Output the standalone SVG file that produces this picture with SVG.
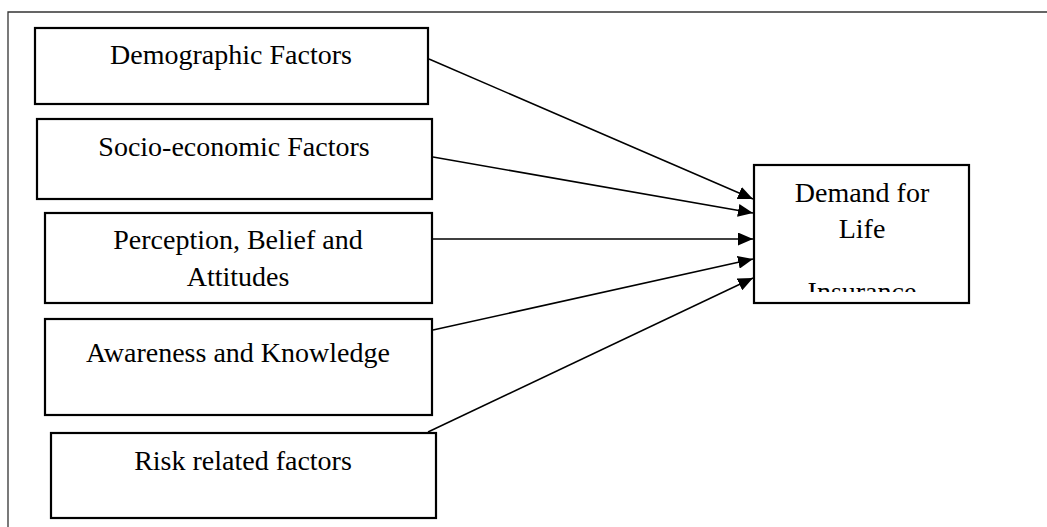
<svg xmlns="http://www.w3.org/2000/svg" width="1047" height="527" viewBox="0 0 1047 527">
  <style>
    .box { fill: #ffffff; stroke: #000000; stroke-width: 2.2; }
    .lbl { font-family: "Liberation Serif", "Times New Roman", serif; font-size: 28px; fill: #000000; text-anchor: middle; }
    .conn { stroke: #000000; stroke-width: 1.5; fill: none; }
    .frame { stroke: #333333; stroke-width: 1.3; fill: none; }
  </style>
  <defs>
    <marker id="arrow" viewBox="0 0 15 13" refX="15" refY="6.5" markerWidth="15" markerHeight="13" markerUnits="userSpaceOnUse" orient="auto">
      <path d="M0,0 L15,6.5 L0,13 Z" fill="#000000"/>
    </marker>
    <clipPath id="clipTarget">
      <rect x="754" y="165" width="215" height="127"/>
    </clipPath>
  </defs>
  <rect width="1047" height="527" fill="#ffffff"/>
  <path class="frame" d="M8,527 L8,12 L1047,12"/>

  <g id="n-demographic">
    <rect class="box" x="35" y="28" width="393" height="76"/>
    <text class="lbl" x="231" y="64">Demographic Factors</text>
  </g>
  <g id="n-socio">
    <rect class="box" x="37" y="119" width="395" height="80"/>
    <text class="lbl" x="234" y="156">Socio-economic Factors</text>
  </g>
  <g id="n-perception">
    <rect class="box" x="45" y="213" width="387" height="90"/>
    <text class="lbl" x="238" y="249">Perception, Belief and</text>
    <text class="lbl" x="238" y="286">Attitudes</text>
  </g>
  <g id="n-awareness">
    <rect class="box" x="45" y="319" width="387" height="96"/>
    <text class="lbl" x="238" y="362">Awareness and Knowledge</text>
  </g>
  <g id="n-risk">
    <rect class="box" x="51" y="433" width="385" height="85"/>
    <text class="lbl" x="243" y="470">Risk related factors</text>
  </g>
  <g id="n-demand">
    <rect class="box" x="754" y="165" width="215" height="138"/>
    <text class="lbl" x="862" y="202">Demand for</text>
    <text class="lbl" x="862" y="238">Life</text>
    <text class="lbl" x="862" y="301" clip-path="url(#clipTarget)">Insurance</text>
  </g>

  <g id="connectors">
    <line class="conn" x1="429" y1="59" x2="753" y2="199" marker-end="url(#arrow)"/>
    <line class="conn" x1="433" y1="157" x2="753" y2="213" marker-end="url(#arrow)"/>
    <line class="conn" x1="433" y1="239" x2="753" y2="239" marker-end="url(#arrow)"/>
    <line class="conn" x1="433" y1="330" x2="753" y2="259" marker-end="url(#arrow)"/>
    <line class="conn" x1="428" y1="432" x2="753" y2="278" marker-end="url(#arrow)"/>
  </g>
</svg>
